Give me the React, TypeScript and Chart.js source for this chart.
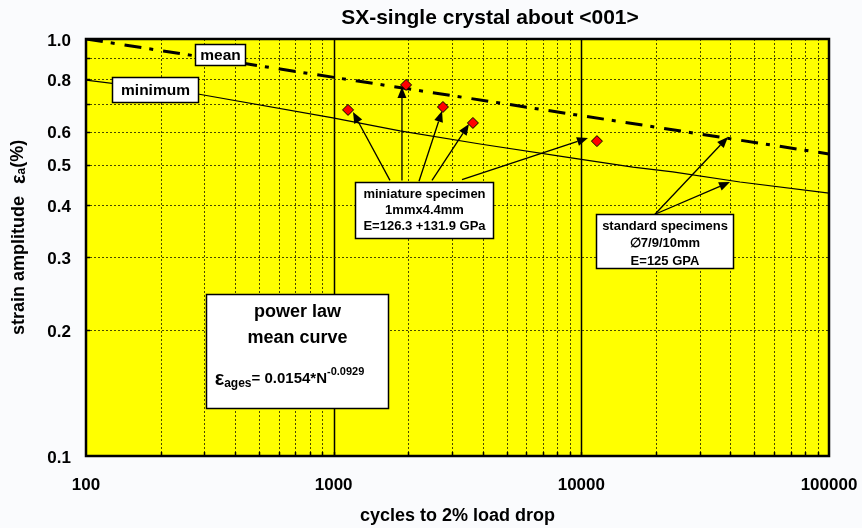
import { useEffect, useRef } from 'react';
import { Chart, registerables } from 'chart.js';
Chart.register(...registerables);

// ---------- text ----------
const TITLE = 'SX-single crystal about <001>';
const X_TITLE = 'cycles to 2% load drop';
const Y_TITLE_MAIN = 'strain amplitude';
const Y_TITLE_SYM = 'ε';
const Y_TITLE_SUB = 'a';
const Y_TITLE_UNIT = '(%)';

// ---------- ticks ----------
const X_TICKS = [100, 1000, 10000, 100000];
const X_TICK_LABELS = ['100', '1000', '10000', '100000'];
const Y_TICKS = [1.0, 0.8, 0.6, 0.5, 0.4, 0.3, 0.2, 0.1];
const Y_TICK_LABELS = ['1.0', '0.8', '0.6', '0.5', '0.4', '0.3', '0.2', '0.1'];

// ---------- series ----------
const MEAN_N = [100, 100000];
const MEAN_EPS = [1.0, 0.53];
const MIN_N = [100, 283, 993, 1852, 3900, 9250, 16150, 23400, 43700, 100000];
const MIN_EPS = [0.797, 0.738, 0.647, 0.602, 0.56, 0.518, 0.493, 0.48, 0.454, 0.427];
const SPEC_N = [1143, 1960, 2762, 3650, 11560];
const SPEC_EPS = [0.676, 0.776, 0.687, 0.629, 0.569];

// ---------- annotation texts ----------
const MEAN_LABEL = 'mean';
const MIN_LABEL = 'minimum';
const MINI_LINES = ['miniature specimen', '1mmx4.4mm', 'E=126.3 +131.9 GPa'];
const STD_LINES = ['standard specimens', '∅7/9/10mm', 'E=125 GPA'];
const POWER_LINES = ['power law', 'mean curve'];
const EQ_SYM = 'ε';
const EQ_SUB = 'ages';
const EQ_MAIN = '= 0.0154*N';
const EQ_SUP = '-0.0929';

const FONT = '"Liberation Sans", Arial, Helvetica, sans-serif';

// annotation placement (data coordinates)
const BOX_MEAN = { x0: 275.5, x1: 438.5, y0: 0.973, y1: 0.866 };
const BOX_MIN = { x0: 127.3, x1: 283.3, y0: 0.811, y1: 0.706 };
const BOX_MINI = { x0: 1219, x1: 4399, y0: 0.454, y1: 0.333 };
const BOX_STD = { x0: 11460, x1: 40960, y0: 0.38, y1: 0.2824 };
const BOX_POWER = { x0: 305.2, x1: 1657, y0: 0.2446, y1: 0.1303 };
const ARROWS = [
  { from: [1688, 0.458], to: [1197, 0.668] },
  { from: [1887, 0.458], to: [1887, 0.767] },
  { from: [2211, 0.456], to: [2738, 0.672] },
  { from: [2495, 0.458], to: [3518, 0.625] },
  { from: [3297, 0.46], to: [10640, 0.579] },
  { from: [19830, 0.38], to: [39100, 0.582] },
  { from: [19830, 0.38], to: [39830, 0.454] },
];

function App() {
  const ref = useRef<HTMLCanvasElement>(null);
  useEffect(() => {
    const canvas = ref.current!;

    const custom = {
      id: 'custom',
      beforeDraw(chart: any) {
        const { ctx, chartArea: ca } = chart;
        ctx.save();
        ctx.fillStyle = '#fafbfd';
        ctx.fillRect(0, 0, chart.width, chart.height);
        ctx.fillStyle = '#ffff00';
        ctx.fillRect(ca.left, ca.top, ca.right - ca.left, ca.bottom - ca.top);
        ctx.restore();
      },
      beforeDatasetsDraw(chart: any) {
        const { ctx, chartArea: ca } = chart;
        const xs = chart.scales.x, ys = chart.scales.y;
        ctx.save();
        // vertical grid
        for (let d = 100; d < 100000; d *= 10) {
          for (let m = 1; m <= 9; m++) {
            const v = d * m;
            if (v <= 100 || v >= 100000) continue;
            const px = Math.round(xs.getPixelForValue(v)) + 0.5;
            const major = m === 1;
            ctx.beginPath();
            ctx.setLineDash(major ? [] : [2, 2]);
            ctx.lineWidth = major ? 1.5 : 1;
            ctx.strokeStyle = major ? '#000' : 'rgba(40,40,0,0.85)';
            ctx.moveTo(px, ca.top);
            ctx.lineTo(px, ca.bottom);
            ctx.stroke();
            // inner tick mark at bottom
            ctx.setLineDash([]);
            ctx.lineWidth = 1.5;
            ctx.strokeStyle = '#000';
            ctx.beginPath();
            ctx.moveTo(px, ca.bottom);
            ctx.lineTo(px, ca.bottom - 4);
            ctx.stroke();
          }
        }
        // horizontal grid
        for (let m = 2; m <= 9; m++) {
          const v = m / 10;
          const py = Math.round(ys.getPixelForValue(v)) + 0.5;
          ctx.beginPath();
          ctx.setLineDash([2, 2]);
          ctx.lineWidth = 1;
          ctx.strokeStyle = 'rgba(40,40,0,0.85)';
          ctx.moveTo(ca.left, py);
          ctx.lineTo(ca.right, py);
          ctx.stroke();
          ctx.setLineDash([]);
          ctx.lineWidth = 1.5;
          ctx.strokeStyle = '#000';
          ctx.beginPath();
          ctx.moveTo(ca.left, py);
          ctx.lineTo(ca.left + 4, py);
          ctx.stroke();
        }
        ctx.restore();
      },
      afterDatasetsDraw(chart: any) {
        const { ctx, chartArea: ca } = chart;
        const xs = chart.scales.x, ys = chart.scales.y;
        const P = (x: number, y: number) => [xs.getPixelForValue(x), ys.getPixelForValue(y)];
        const rect = (b: any) => {
          const [a, c] = P(b.x0, b.y0);
          const [e, f] = P(b.x1, b.y1);
          return { l: Math.round(a) + 0.5, t: Math.round(c) + 0.5, r: Math.round(e) + 0.5, b: Math.round(f) + 0.5 };
        };
        const box = (b: any, lw = 1.5) => {
          const r = rect(b);
          ctx.save();
          ctx.fillStyle = '#fff';
          ctx.fillRect(r.l, r.t, r.r - r.l, r.b - r.t);
          ctx.lineWidth = lw;
          ctx.strokeStyle = '#000';
          ctx.setLineDash([]);
          ctx.strokeRect(r.l, r.t, r.r - r.l, r.b - r.t);
          ctx.restore();
          return r;
        };
        ctx.save();
        ctx.fillStyle = '#000';
        ctx.textAlign = 'center';
        ctx.textBaseline = 'middle';

        // arrows
        const arrow = (x1: number, y1: number, x2: number, y2: number) => {
          const ang = Math.atan2(y2 - y1, x2 - x1);
          const L = 11, W = 4.5;
          const bx = x2 - L * Math.cos(ang), by = y2 - L * Math.sin(ang);
          ctx.beginPath();
          ctx.lineWidth = 1.3;
          ctx.strokeStyle = '#000';
          ctx.moveTo(x1, y1);
          ctx.lineTo(bx, by);
          ctx.stroke();
          ctx.beginPath();
          ctx.moveTo(x2, y2);
          ctx.lineTo(bx + W * Math.sin(ang), by - W * Math.cos(ang));
          ctx.lineTo(bx - W * Math.sin(ang), by + W * Math.cos(ang));
          ctx.closePath();
          ctx.fill();
        };
        ARROWS.forEach((a) => {
          const [x1, y1] = P(a.from[0], a.from[1]);
          const [x2, y2] = P(a.to[0], a.to[1]);
          arrow(x1, y1, x2, y2);
        });

        // label boxes
        let r = box(BOX_MEAN);
        ctx.font = `bold 15.5px ${FONT}`;
        ctx.fillText(MEAN_LABEL, (r.l + r.r) / 2, (r.t + r.b) / 2 + 1);
        r = box(BOX_MIN);
        ctx.fillText(MIN_LABEL, (r.l + r.r) / 2, (r.t + r.b) / 2 + 1);

        r = box(BOX_MINI);
        ctx.font = `bold 13px ${FONT}`;
        MINI_LINES.forEach((s, i) => ctx.fillText(s, (r.l + r.r) / 2, r.t + 11.5 + i * 16));
        r = box(BOX_STD);
        STD_LINES.forEach((s, i) => ctx.fillText(s, (r.l + r.r) / 2, r.t + 11.5 + i * 17.5));

        r = box(BOX_POWER);
        ctx.font = `bold 18px ${FONT}`;
        POWER_LINES.forEach((s, i) => ctx.fillText(s, (r.l + r.r) / 2, r.t + 17.5 + i * 26));
        // equation
        ctx.textAlign = 'left';
        ctx.textBaseline = 'alphabetic';
        const fSym = `bold 20px ${FONT}`, fSub = `bold 12px ${FONT}`, fMain = `bold 15px ${FONT}`, fSup = `bold 11px ${FONT}`;
        ctx.font = fSym; const wSym = ctx.measureText(EQ_SYM).width;
        ctx.font = fSub; const wSub = ctx.measureText(EQ_SUB).width;
        ctx.font = fMain; const wMain = ctx.measureText(EQ_MAIN).width;
        ctx.font = fSup; const wSup = ctx.measureText(EQ_SUP).width;
        let ex = (r.l + r.r) / 2 - 8 - (wSym + wSub + wMain + wSup) / 2;
        const eb = r.t + 88;
        ctx.font = fSym; ctx.fillText(EQ_SYM, ex, eb + 2); ex += wSym;
        ctx.font = fSub; ctx.fillText(EQ_SUB, ex, eb + 4); ex += wSub;
        ctx.font = fMain; ctx.fillText(EQ_MAIN, ex, eb); ex += wMain;
        ctx.font = fSup; ctx.fillText(EQ_SUP, ex, eb - 8);

        // plot border
        ctx.lineWidth = 2.5;
        ctx.strokeStyle = '#000';
        ctx.strokeRect(ca.left, ca.top, ca.right - ca.left, ca.bottom - ca.top);

        // tick labels
        ctx.font = `bold 17px ${FONT}`;
        ctx.textAlign = 'center';
        ctx.textBaseline = 'middle';
        X_TICKS.forEach((v, i) => ctx.fillText(X_TICK_LABELS[i], xs.getPixelForValue(v), 485));
        ctx.textAlign = 'right';
        Y_TICKS.forEach((v, i) => ctx.fillText(Y_TICK_LABELS[i], 71, ys.getPixelForValue(v) + 2));

        // titles
        ctx.textAlign = 'center';
        ctx.font = `bold 21px ${FONT}`;
        ctx.fillText(TITLE, 490, 18);
        ctx.font = `bold 18px ${FONT}`;
        ctx.fillText(X_TITLE, (ca.left + ca.right) / 2, 516);

        // y title (rotated)
        ctx.save();
        ctx.translate(19, 335);
        ctx.rotate(-Math.PI / 2);
        ctx.textAlign = 'left';
        ctx.textBaseline = 'middle';
        let yx = 0;
        ctx.font = `bold 18px ${FONT}`;
        ctx.fillText(Y_TITLE_MAIN, yx, 0);
        yx += ctx.measureText(Y_TITLE_MAIN).width + 12;
        ctx.font = `bold 20px ${FONT}`;
        ctx.fillText(Y_TITLE_SYM, yx, 0);
        yx += ctx.measureText(Y_TITLE_SYM).width;
        ctx.font = `bold 12px ${FONT}`;
        ctx.fillText(Y_TITLE_SUB, yx, 3);
        yx += ctx.measureText(Y_TITLE_SUB).width;
        ctx.font = `bold 18px ${FONT}`;
        ctx.fillText(Y_TITLE_UNIT, yx, -1);
        ctx.restore();

        ctx.restore();
      },
    };

    const chart = new Chart(canvas, {
      type: 'scatter',
      data: {
        datasets: [
          {
            label: 'specimens',
            data: SPEC_N.map((n, i) => ({ x: n, y: SPEC_EPS[i] })),
            pointStyle: 'rectRot',
            pointRadius: 5.5,
            backgroundColor: '#ff0000',
            borderColor: '#000',
            borderWidth: 1,
            showLine: false,
            order: 0,
          },
          {
            label: 'mean',
            data: MEAN_N.map((n, i) => ({ x: n, y: MEAN_EPS[i] })),
            showLine: true,
            borderColor: '#000',
            borderWidth: 3,
            borderDash: [17, 8, 4, 10],
            pointRadius: 0,
            fill: false,
            order: 1,
          },
          {
            label: 'minimum',
            data: MIN_N.map((n, i) => ({ x: n, y: MIN_EPS[i] })),
            showLine: true,
            borderColor: '#000',
            borderWidth: 1.2,
            pointRadius: 0,
            fill: false,
            order: 2,
          },
        ],
      },
      options: {
        animation: false,
        responsive: false,
        devicePixelRatio: 1,
        layout: { padding: { left: 86, right: 33, top: 39, bottom: 72 } },
        plugins: {
          legend: { display: false },
          tooltip: { enabled: false },
          title: { display: false },
        },
        scales: {
          x: { type: 'logarithmic', min: 100, max: 100000, display: false },
          y: { type: 'logarithmic', min: 0.1, max: 1.0, display: false },
        },
        elements: { line: { tension: 0 } },
      },
      plugins: [custom],
    } as any);
    return () => chart.destroy();
  }, []);
  return (
    <div style={{ position: 'absolute', left: 0, top: 0, width: 862, height: 528 }}>
      <canvas ref={ref} width={862} height={528} style={{ display: 'block', width: 862, height: 528 }} />
    </div>
  );
}

export default App;
